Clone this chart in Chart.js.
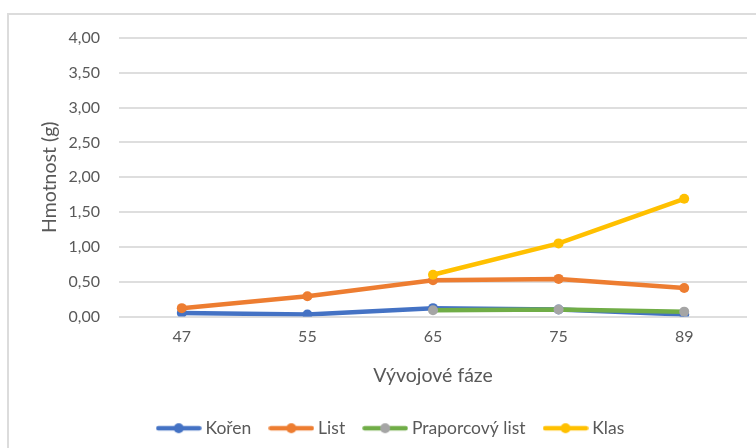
<!DOCTYPE html>
<html>
<head>
<meta charset="utf-8">
<script src="https://cdn.jsdelivr.net/npm/chart.js@4.4.1/dist/chart.umd.min.js"></script>
<style>
  html, body { margin: 0; padding: 0; background: #ffffff; }
  #wrap { position: relative; width: 756px; height: 448px; overflow: hidden; }
  #frame { position: absolute; left: 7px; top: 13px; width: 800px; height: 500px; border: 2px solid #dcdcdc; box-sizing: border-box; }
  #c { position: absolute; left: 0; top: 0; }
</style>
</head>
<body>
<div id="wrap">
  <div id="frame"></div>
  <canvas id="c" width="756" height="448"></canvas>
</div>
<script>
const categories = ['47', '55', '65', '75', '89'];
const koren = [0.05, 0.03, 0.12, 0.10, 0.03];
const list = [0.12, 0.29, 0.52, 0.54, 0.41];
const praporcovyList = [null, null, 0.09, 0.10, 0.07];
const klas = [null, null, 0.60, 1.05, 1.69];
const seriesNames = ['Kořen', 'List', 'Praporcový list', 'Klas'];
const yTicks = [0, 0.5, 1, 1.5, 2, 2.5, 3, 3.5, 4];
const yTitle = 'Hmotnost (g)';
const xTitle = 'Vývojové fáze';

const FONT = 'Lato, "Open Sans", sans-serif';
const TEXT = '#595959';

function legendIcon(lineColor, pointColor) {
  const cv = document.createElement('canvas');
  cv.width = 46; cv.height = 12;
  const g = cv.getContext('2d');
  g.strokeStyle = lineColor; g.lineWidth = 4.5; g.lineCap = 'round';
  g.beginPath(); g.moveTo(2.5, 6); g.lineTo(43.5, 6); g.stroke();
  g.fillStyle = pointColor;
  g.beginPath(); g.arc(23, 6, 5, 0, Math.PI * 2); g.fill();
  return cv;
}

const styles = [
  { line: '#4472C4', point: '#4472C4' },
  { line: '#ED7D31', point: '#ED7D31' },
  { line: '#70AD47', point: '#A5A5A5' },
  { line: '#FFC000', point: '#FFC000' }
];
const values = [koren, list, praporcovyList, klas];

const datasets = values.map((v, i) => ({
  label: seriesNames[i],
  data: v,
  borderColor: styles[i].line,
  backgroundColor: styles[i].point,
  pointBackgroundColor: styles[i].point,
  pointBorderColor: styles[i].point,
  borderWidth: 4.5,
  pointRadius: 5,
  pointHoverRadius: 5,
  pointBorderWidth: 0,
  tension: 0,
  spanGaps: false,
  order: 4 - i,
  icon: legendIcon(styles[i].line, styles[i].point)
}));

const yTitlePlugin = {
  id: 'yTitlePlugin',
  afterDraw(chart) {
    const { ctx, chartArea } = chart;
    ctx.save();
    ctx.translate(50, (chartArea.top + chartArea.bottom) / 2);
    ctx.rotate(-Math.PI / 2);
    ctx.font = '19.5px ' + FONT;
    ctx.fillStyle = TEXT;
    ctx.textAlign = 'center';
    ctx.textBaseline = 'middle';
    ctx.fillText(yTitle, 0, 0);
    ctx.restore();
  }
};

new Chart(document.getElementById('c'), {
  type: 'line',
  data: { labels: categories, datasets: datasets },
  plugins: [yTitlePlugin],
  options: {
    responsive: false,
    animation: false,
    devicePixelRatio: 1,
    layout: { padding: { top: 38, right: 9, left: 38, bottom: 1 } },
    plugins: {
      tooltip: { enabled: false },
      legend: {
        position: 'bottom',
        align: 'center',
        labels: {
          usePointStyle: true,
          pointStyleWidth: 36,
          boxHeight: 12,
          padding: 22,
          color: TEXT,
          font: { family: FONT, size: 17.5 },
          generateLabels: (chart) => chart.data.datasets.map((ds, i) => ({
            text: ds.label,
            pointStyle: ds.icon,
            fillStyle: ds.backgroundColor,
            strokeStyle: ds.borderColor,
            lineWidth: 0,
            hidden: false,
            datasetIndex: i,
            fontColor: TEXT
          }))
        }
      }
    },
    scales: {
      x: {
        offset: true,
        grid: { display: false, drawTicks: false },
        border: { display: false },
        ticks: { color: TEXT, font: { family: FONT, size: 16 }, padding: 11, maxRotation: 0 },
        title: { display: true, text: xTitle, color: TEXT, font: { family: FONT, size: 19.5 }, padding: { top: 0, bottom: 10.3 } },
        afterFit: (s) => { s.height = 81; }
      },
      y: {
        min: 0,
        max: 4,
        afterBuildTicks: (s) => { s.ticks = yTicks.map(v => ({ value: v })); },
        grid: { color: '#dedede', lineWidth: 2, drawTicks: false },
        border: { display: false },
        ticks: {
          color: TEXT,
          font: { family: FONT, size: 16 },
          padding: 19,
          callback: (v) => Number(v).toFixed(2).replace('.', ',')
        },
        title: { display: false },
        afterFit: (s) => { s.width = 81; }
      }
    }
  }
});
</script>
</body>
</html>
